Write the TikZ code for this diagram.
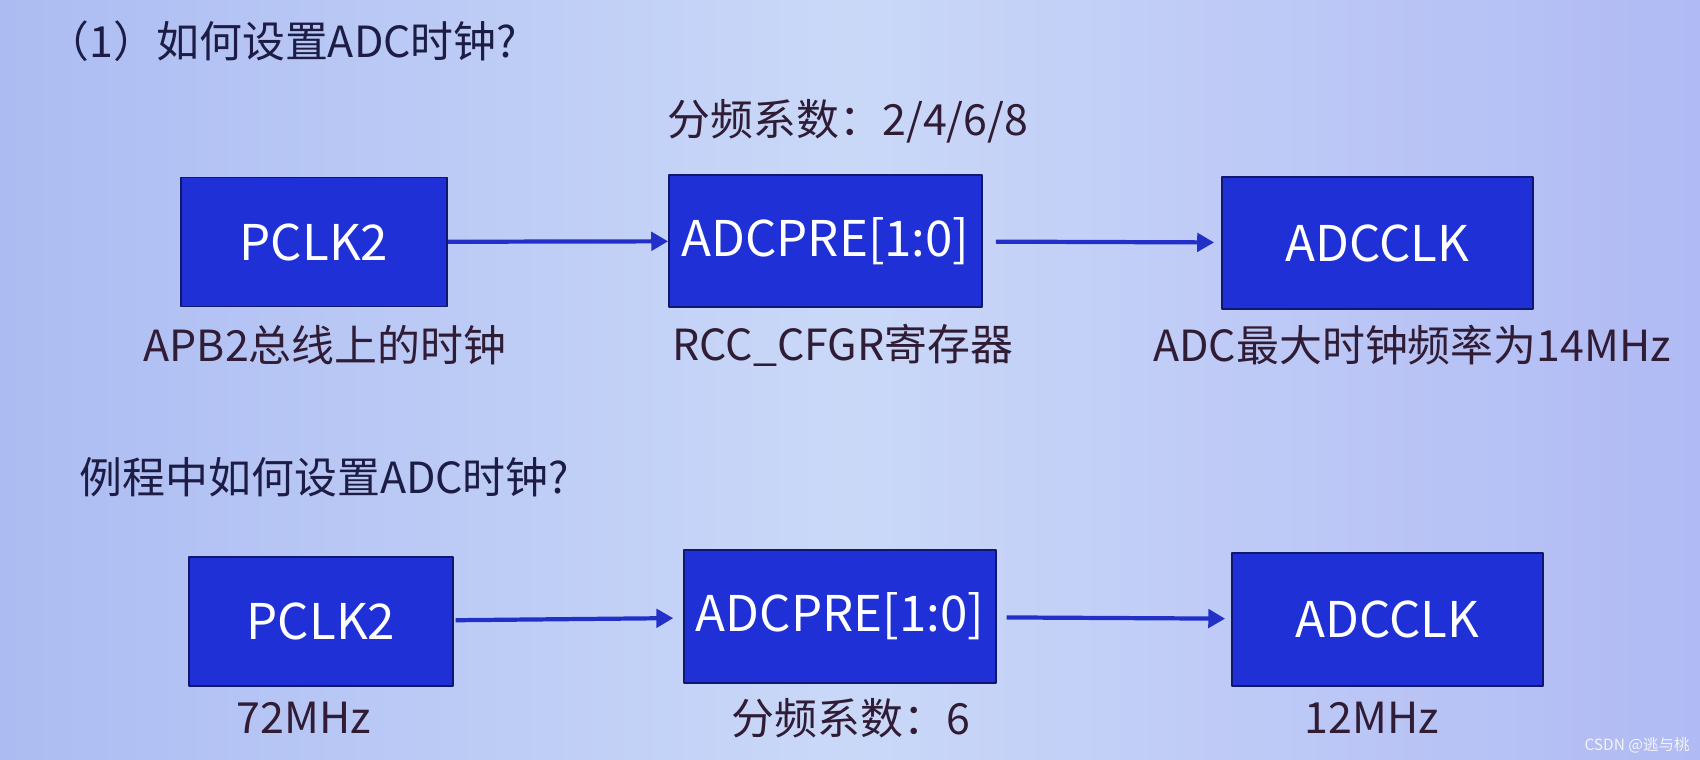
\documentclass[tikz,border=0pt]{standalone}
\usepackage{fontspec}
\setmainfont{Noto Sans CJK SC}
\usetikzlibrary{arrows.meta,positioning}
\definecolor{bgleft}{RGB}{172,188,242}
\definecolor{bgmid}{RGB}{202,216,248}
\definecolor{bgright}{RGB}{176,186,244}
\definecolor{boxblue}{RGB}{30,48,214}
\definecolor{linkblue}{RGB}{34,48,200}
\definecolor{edgeblue}{RGB}{16,24,110}
\definecolor{inkblue}{RGB}{28,28,68}
\definecolor{inkred}{RGB}{48,28,52}
\begin{document}
\begin{tikzpicture}[x=0.01cm, y=-0.01cm, line join=round,
    >={Triangle[length=4.8pt,width=5.2pt]},
    blk/.style={draw=edgeblue, line width=0.5pt, fill=boxblue, text=white, inner sep=0pt,
        font=\fontsize{14}{16}\selectfont},
    lab/.style={text=inkred, inner sep=0pt, font=\fontsize{12.2}{14}\selectfont},
    head/.style={text=inkblue, inner sep=0pt, anchor=west, font=\fontsize{12.2}{14}\selectfont},
    link/.style={->, linkblue, line width=1.2pt}]
    % ============= NỀN
    \shade[left color=bgleft, right color=bgright, middle color=bgmid] (0,0) rectangle (1700,759);
    \useasboundingbox (0,0) rectangle (1700,759);
    % ============= TIÊU ĐỀ
    \node[head] (t1) at (46,41) {（1）如何设置ADC时钟?};
    \node[head] (t2) at (79,477) {例程中如何设置ADC时钟?};
    \node[lab] (div) at (848,121) {分频系数：2/4/6/8};
    % ============= KHỐI
    \foreach \n/\x/\y/\w/\h/\t in {p1/314/242/266/129/PCLK2, a1/825.5/241/313/132/{ADCPRE[1:0]},
        c1/1377.5/243/311/132/ADCCLK, p2/321/621.5/264/129/PCLK2,
        a2/840/616.5/312/133/{ADCPRE[1:0]}, c2/1387.5/619.5/311/133/ADCCLK}{
        \node[blk, minimum width=\w*0.01cm, minimum height=\h*0.01cm] (\n) at (\x,\y) {\t};}
    % ============= NHÃN
    \foreach \n/\x/\y/\t in {l1/325/345/APB2总线上的时钟, m1/843/345/RCC\_CFGR寄存器,
        r1/1412/345/ADC最大时钟频率为14MHz, l2/304/718/72MHz,
        m2/851/718/分频系数：6, r2/1372/718/12MHz}{
        \node[lab] (\n) at (\x,\y) {\t};}
    % ============= MŨI TÊN
    \foreach \a/\b/\s/\e in {p1/a1/0/0, a1/c1/3.7/2, p2/a2/0.5/2.8, a2/c2/2.8/1.7}{
        \draw[link, shorten <=\s pt, shorten >=\e pt] (\a) -- (\b);}
    %---
    \node[text=white!92!gray, inner sep=0pt, font=\fontsize{4.4}{5}\selectfont] (wm) at (1637,745) {CSDN @逃与桃};
\end{tikzpicture}
\end{document}
